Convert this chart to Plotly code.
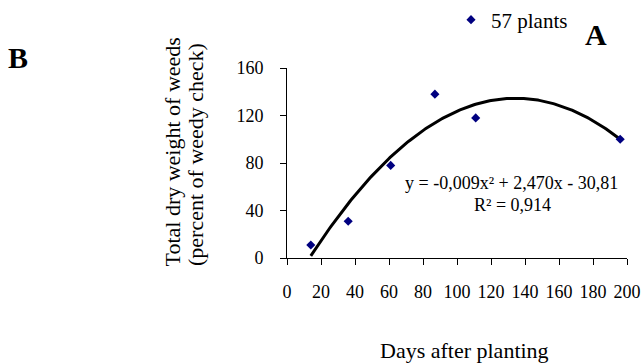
import numpy as np
import plotly.graph_objects as go

# Data
days = [14, 36, 61, 87, 111, 196]
weight = [11, 31, 78, 138, 118, 100]
series_name = "57 plants"
x_ticks = [0, 20, 40, 60, 80, 100, 120, 140, 160, 180, 200]
y_ticks = [0, 40, 80, 120, 160]
equation_text = "y = -0,009x² + 2,470x - 30,81"
r2_text = "R² = 0,914"

# Polynomial (order 2) trendline fitted to the data, as the spreadsheet did
coef = np.polyfit(days, weight, 2)
trend_x = np.linspace(min(days), max(days), 200)
trend_y = np.polyval(coef, trend_x)

W, H = 643, 363
PLOT_L, PLOT_R, PLOT_T, PLOT_B = 287, 627, 68, 258   # window pixels
L, T = PLOT_L, PLOT_T
R = W - PLOT_R
B = H - PLOT_B
PW, PH = PLOT_R - PLOT_L, PLOT_B - PLOT_T

def px(xp):
    return (xp - PLOT_L) / PW

def py(yp):
    return (PLOT_B - yp) / PH

FONT = "Liberation Serif"

fig = go.Figure()
fig.add_trace(go.Scatter(
    x=trend_x, y=trend_y, mode="lines",
    line=dict(color="black", width=3),
    showlegend=False, hoverinfo="skip",
))
fig.add_trace(go.Scatter(
    x=days, y=weight, mode="markers", name=series_name,
    marker=dict(symbol="diamond", size=7, color="#000080"),
))

axis_common = dict(
    showgrid=False, zeroline=False, showline=True, linecolor="black",
    linewidth=1, ticks="outside", ticklen=6, tickcolor="black",
    tickfont=dict(family=FONT, size=18, color="black"),
)
fig.update_xaxes(range=[0, 200], tickvals=x_ticks, ticklabelstandoff=11,
                 ticklabeloverflow="allow", **axis_common)
fig.update_yaxes(range=[0, 160], tickvals=y_ticks, ticklabelstandoff=13, **axis_common)

ann = []
def add(text, x, y, size, bold=False, angle=0):
    ann.append(dict(
        text=f"<b>{text}</b>" if bold else text,
        xref="paper", yref="paper", x=px(x), y=py(y),
        xanchor="center", yanchor="middle", showarrow=False,
        textangle=angle, font=dict(family=FONT, size=size, color="black"),
    ))

add("B", 18, 57.5, 30, bold=True)
add("A", 596, 34, 30, bold=True)
add(equation_text, 511, 183, 18)
add(r2_text, 512, 205, 18)
add("Total dry weight of weeds", 172, 152.5, 22, angle=-90)
add("(percent of weedy check)", 195, 155, 22, angle=-90)
add("Days after planting", 464, 350, 22)

fig.update_layout(
    width=W, height=H,
    margin=dict(l=L, r=R, t=T, b=B, autoexpand=False),
    paper_bgcolor="white", plot_bgcolor="white",
    annotations=ann,
    showlegend=True,
    legend=dict(
        x=px(451), y=py(20), xanchor="left", yanchor="middle",
        font=dict(family=FONT, size=21, color="black"),
        bgcolor="rgba(0,0,0,0)", itemwidth=30,
    ),
)

fig.write_html(
    "out.html",
    config={"displayModeBar": False},
    post_script="document.body.style.margin='0';document.body.style.overflow='hidden';",
)
